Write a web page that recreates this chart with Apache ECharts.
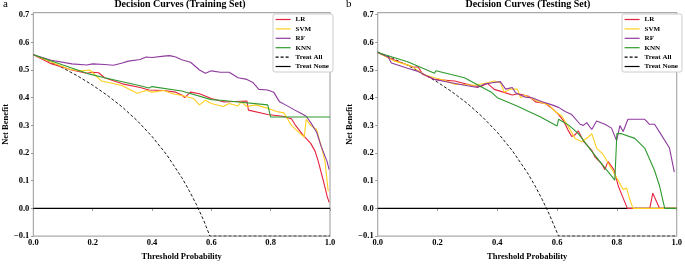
<!DOCTYPE html>
<html>
<head>
<meta charset="utf-8">
<script src="https://cdn.jsdelivr.net/npm/echarts@6/dist/echarts.min.js"></script>
<style>
  html, body { margin: 0; padding: 0; background: #fff; }
  #chart { width: 685px; height: 266px; }
</style>
</head>
<body>
<div id="chart"></div>
<script>
var legendNames = ['LR', 'SVM', 'RF', 'KNN', 'Treat All', 'Treat None']
var xTicks = [0, 0.2, 0.4, 0.6, 0.8, 1.0]
var yTicks = [-0.1, 0, 0.1, 0.2, 0.3, 0.4, 0.5, 0.6, 0.7]

// training set curves, [threshold, net benefit]
var trainLR = [[0,0.555],[0.06,0.523],[0.13,0.5],[0.18,0.488],[0.2,0.492],[0.22,0.49],[0.24,0.472],[0.3,0.45],[0.36,0.437],[0.39,0.428],[0.44,0.426],[0.48,0.42],[0.5,0.41],[0.51,0.4],[0.53,0.42],[0.56,0.414],[0.6,0.397],[0.64,0.385],[0.68,0.386],[0.72,0.388],[0.725,0.355],[0.79,0.339],[0.84,0.333],[0.87,0.324],[0.885,0.298],[0.91,0.264],[0.935,0.235],[0.95,0.206],[0.96,0.172],[0.98,0.09],[0.99,0.045],[0.997,0.022]]
var trainSVM = [[0,0.555],[0.06,0.529],[0.12,0.503],[0.16,0.497],[0.19,0.5],[0.23,0.46],[0.27,0.451],[0.3,0.443],[0.35,0.416],[0.38,0.426],[0.4,0.42],[0.44,0.426],[0.47,0.414],[0.5,0.408],[0.54,0.397],[0.56,0.374],[0.58,0.391],[0.6,0.379],[0.64,0.368],[0.66,0.379],[0.69,0.37],[0.7,0.385],[0.72,0.368],[0.75,0.374],[0.78,0.365],[0.82,0.35],[0.845,0.345],[0.87,0.3],[0.895,0.275],[0.913,0.258],[0.92,0.322],[0.935,0.299],[0.955,0.285],[0.972,0.218],[0.983,0.17],[0.994,0.062]]
var trainRF = [[0,0.555],[0.06,0.535],[0.13,0.522],[0.18,0.518],[0.2,0.522],[0.24,0.52],[0.27,0.517],[0.3,0.525],[0.32,0.532],[0.36,0.538],[0.38,0.547],[0.4,0.545],[0.44,0.55],[0.46,0.552],[0.48,0.547],[0.5,0.537],[0.53,0.528],[0.56,0.5],[0.58,0.488],[0.6,0.497],[0.63,0.492],[0.66,0.492],[0.69,0.472],[0.72,0.466],[0.74,0.455],[0.76,0.43],[0.79,0.428],[0.81,0.42],[0.83,0.385],[0.85,0.374],[0.88,0.356],[0.9,0.345],[0.92,0.333],[0.935,0.31],[0.955,0.275],[0.97,0.225],[0.99,0.17],[0.997,0.14]]
var trainKNN = [[0,0.555],[0.1,0.518],[0.19,0.485],[0.24,0.472],[0.36,0.443],[0.39,0.435],[0.4,0.44],[0.5,0.424],[0.6,0.393],[0.64,0.39],[0.79,0.374],[0.8,0.33],[1,0.33]]
var trainAll = [[0,0.556],[0.05,0.533],[0.1,0.507],[0.15,0.478],[0.2,0.445],[0.25,0.408],[0.3,0.366],[0.35,0.317],[0.4,0.26],[0.45,0.193],[0.5,0.112],[0.525,0.065],[0.55,0.013],[0.575,-0.045],[0.595,-0.1],[1,-0.1]]

// testing set curves
var testLR = [[0,0.563],[0.057,0.535],[0.1,0.518],[0.12,0.51],[0.135,0.512],[0.15,0.485],[0.19,0.466],[0.257,0.46],[0.32,0.443],[0.345,0.44],[0.367,0.452],[0.39,0.43],[0.42,0.42],[0.45,0.41],[0.47,0.414],[0.505,0.405],[0.528,0.385],[0.561,0.379],[0.583,0.362],[0.605,0.339],[0.622,0.316],[0.638,0.28],[0.649,0.26],[0.66,0.266],[0.671,0.28],[0.69,0.24],[0.716,0.21],[0.727,0.185],[0.75,0.16],[0.76,0.14],[0.77,0.17],[0.79,0.14],[0.805,0.08],[0.82,0.04],[0.835,0],[0.91,0],[0.92,0.055],[0.943,0],[1,0]]
var testSVM = [[0,0.563],[0.057,0.532],[0.11,0.515],[0.157,0.483],[0.19,0.472],[0.223,0.463],[0.257,0.449],[0.323,0.445],[0.367,0.454],[0.39,0.46],[0.41,0.455],[0.423,0.42],[0.444,0.431],[0.467,0.431],[0.478,0.4],[0.494,0.408],[0.539,0.385],[0.572,0.374],[0.594,0.35],[0.616,0.333],[0.633,0.304],[0.66,0.253],[0.682,0.241],[0.705,0.258],[0.716,0.27],[0.732,0.218],[0.754,0.195],[0.782,0.143],[0.804,0.102],[0.821,0.068],[0.832,0.074],[0.843,0.033],[0.854,0],[1,0]]
var testRF = [[0,0.563],[0.035,0.547],[0.046,0.525],[0.1,0.506],[0.135,0.495],[0.168,0.477],[0.19,0.466],[0.246,0.454],[0.3,0.443],[0.334,0.437],[0.356,0.449],[0.384,0.454],[0.41,0.458],[0.428,0.431],[0.45,0.437],[0.461,0.418],[0.494,0.402],[0.516,0.4],[0.55,0.385],[0.583,0.374],[0.605,0.365],[0.627,0.35],[0.649,0.339],[0.677,0.304],[0.688,0.3],[0.699,0.31],[0.716,0.285],[0.732,0.316],[0.76,0.304],[0.782,0.29],[0.799,0.245],[0.81,0.299],[0.821,0.278],[0.837,0.322],[0.893,0.322],[0.909,0.304],[0.926,0.304],[0.94,0.28],[0.976,0.218],[0.992,0.131]]
var testKNN = [[0,0.563],[0.1,0.53],[0.19,0.488],[0.195,0.497],[0.29,0.472],[0.34,0.443],[0.38,0.42],[0.4,0.4],[0.47,0.368],[0.505,0.35],[0.54,0.333],[0.6,0.298],[0.605,0.322],[0.64,0.3],[0.671,0.27],[0.716,0.206],[0.75,0.16],[0.793,0.102],[0.8,0.27],[0.815,0.27],[0.86,0.253],[0.893,0.218],[0.926,0.137],[0.943,0.08],[0.96,0],[1,0]]
var testAll = [[0,0.565],[0.05,0.542],[0.1,0.517],[0.15,0.488],[0.2,0.456],[0.25,0.42],[0.3,0.379],[0.35,0.331],[0.4,0.275],[0.45,0.209],[0.5,0.13],[0.525,0.084],[0.55,0.033],[0.575,-0.024],[0.6,-0.0875],[0.605,-0.1],[1,-0.1]]
var treatNone = [[0,0],[1,0]]

var colors = { LR: '#e5233f', SVM: '#ffcf1f', RF: '#8e3a9e', KNN: '#2f9a2f' }
var serif = 'Liberation Serif'

var myChart = echarts.init(document.getElementById('chart'), null, { renderer: 'canvas' })

function xAxisFor(idx) {
  return {
    type: 'value', gridIndex: idx, min: 0, max: 1, interval: 0.2,
    name: 'Threshold Probability', nameLocation: 'middle', nameGap: 11,
    nameTextStyle: { fontFamily: serif, fontWeight: 'bold', fontSize: 8.5, color: '#000' },
    axisLine: { show: false },
    axisTick: { show: true, length: 2.5, lineStyle: { color: '#999' } },
    axisLabel: { fontFamily: serif, fontWeight: 'bold', fontSize: 8.5, color: '#000', margin: 2,
      formatter: function(v) { return v.toFixed(1) } },
    splitLine: { show: false }
  }
}
function yAxisFor(idx) {
  return {
    type: 'value', gridIndex: idx, min: -0.1, max: 0.707,
    name: 'Net Benefit', nameLocation: 'middle', nameGap: 20, nameRotate: 90,
    nameTextStyle: { fontFamily: serif, fontWeight: 'bold', fontSize: 8.5, color: '#000' },
    axisLine: { show: false },
    axisTick: { show: true, length: 2.5, lineStyle: { color: '#999' }, customValues: yTicks },
    axisLabel: { fontFamily: serif, fontWeight: 'bold', fontSize: 8.5, color: '#000', margin: 4,
      customValues: yTicks,
      formatter: function(v) { return v.toFixed(1).replace('-', '\u2212') } },
    splitLine: { show: false }
  }
}
function legendFor(left) {
  return {
    orient: 'vertical', left: left, top: 14,
    data: legendNames,
    itemWidth: 15, itemHeight: 7, itemGap: 2.4,
    padding: [2, 4, 2, 2],
    itemStyle: { opacity: 0 },
    lineStyle: { width: 1.2 },
    backgroundColor: '#fff', borderColor: '#ccc', borderWidth: 1, borderRadius: 2,
    textStyle: { fontFamily: serif, fontWeight: 'bold', fontSize: 7, color: '#000' }
  }
}
function modelSeries(name, data, idx) {
  return {
    name: name, type: 'line', xAxisIndex: idx, yAxisIndex: idx, data: data,
    symbol: 'none', z: 3, silent: true,
    lineStyle: { color: colors[name], width: 1.1 },
    itemStyle: { color: colors[name] }
  }
}
function refSeries(name, data, idx, dashed) {
  return {
    name: name, type: 'line', xAxisIndex: idx, yAxisIndex: idx, data: data,
    symbol: 'none', z: 2, silent: true,
    lineStyle: { color: '#000', width: dashed ? 0.9 : 1.1, type: dashed ? [3, 2] : 'solid' },
    itemStyle: { color: '#000' }
  }
}

var titleStyle = { fontFamily: serif, fontWeight: 'bold', fontSize: 10, color: '#000' }
var tagStyle = { fontFamily: serif, fontWeight: 'normal', fontSize: 11, color: '#000' }

myChart.setOption({
  animation: false,
  title: [
    { text: 'Decision Curves (Training Set)', left: 180, top: -1, textAlign: 'center', textStyle: titleStyle, padding: 0 },
    { text: 'Decision Curves (Testing Set)', left: 528, top: -1, textAlign: 'center', textStyle: titleStyle, padding: 0 },
    { text: 'a', left: 3, top: -1, textStyle: tagStyle, padding: 0 },
    { text: 'b', left: 346, top: -1, textStyle: tagStyle, padding: 0 }
  ],
  legend: [legendFor(273), legendFor(622)],
  grid: [
    { left: 30, top: 12.7, width: 300, height: 233, show: true, borderColor: '#aaa', borderWidth: 1.2, backgroundColor: 'transparent' },
    { left: 377.7, top: 12.7, width: 301.3, height: 233, show: true, borderColor: '#aaa', borderWidth: 1.2, backgroundColor: 'transparent' }
  ],
  xAxis: [xAxisFor(0), xAxisFor(1)],
  yAxis: [yAxisFor(0), yAxisFor(1)],
  series: [
    modelSeries('LR', trainLR, 0),
    modelSeries('SVM', trainSVM, 0),
    modelSeries('RF', trainRF, 0),
    modelSeries('KNN', trainKNN, 0),
    refSeries('Treat All', trainAll, 0, true),
    refSeries('Treat None', treatNone, 0, false),
    modelSeries('LR', testLR, 1),
    modelSeries('SVM', testSVM, 1),
    modelSeries('RF', testRF, 1),
    modelSeries('KNN', testKNN, 1),
    refSeries('Treat All', testAll, 1, true),
    refSeries('Treat None', treatNone, 1, false)
  ]
})
</script>
</body>
</html>
